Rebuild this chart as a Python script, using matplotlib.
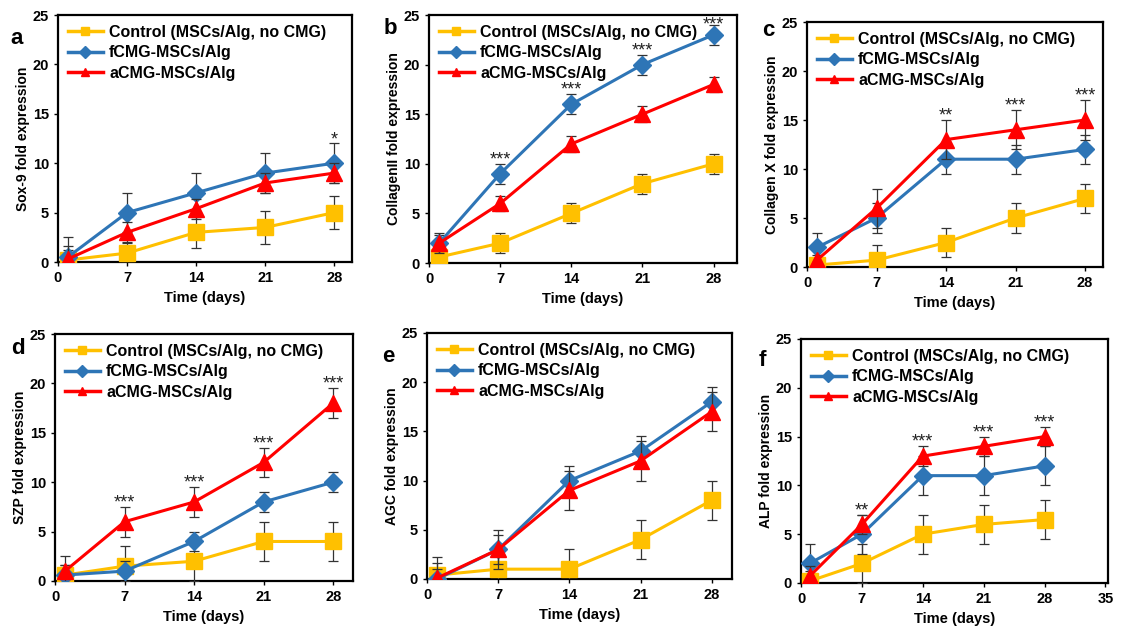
import matplotlib
matplotlib.use("Agg")
import matplotlib.pyplot as plt
from matplotlib.lines import Line2D

plt.rcParams["font.family"] = ["Liberation Sans", "DejaVu Sans"]
plt.rcParams["font.weight"] = "bold"

days = [1, 7, 14, 21, 28]
series_names = ["Control (MSCs/Alg, no CMG)", "fCMG-MSCs/Alg", "aCMG-MSCs/Alg"]

# panel a: Sox-9
sox9_ctrl = [0.2, 0.9, 3.0, 3.5, 5.0]
sox9_ctrl_err = [1.0, 1.0, 1.6, 1.7, 1.7]
sox9_f = [0.5, 5.0, 7.0, 9.0, 10.0]
sox9_f_err = [2.0, 2.0, 2.0, 2.0, 2.0]
sox9_a = [0.3, 3.0, 5.4, 8.0, 9.0]
sox9_a_err = [1.3, 1.0, 1.0, 1.0, 1.0]
sox9_stars = ["", "", "", "", "*"]

# panel b: Collagen II
col2_ctrl = [0.6, 2.0, 5.0, 8.0, 10.0]
col2_ctrl_err = [0.5, 1.0, 1.0, 1.0, 1.0]
col2_f = [2.0, 9.0, 16.0, 20.0, 23.0]
col2_f_err = [0.8, 1.0, 1.0, 1.0, 1.0]
col2_a = [2.0, 6.0, 12.0, 15.0, 18.0]
col2_a_err = [1.0, 0.8, 0.8, 0.8, 0.8]
col2_stars = ["", "***", "***", "***", "***"]

# panel c: Collagen X
col10_ctrl = [0.2, 0.7, 2.5, 5.0, 7.0]
col10_ctrl_err = [0.5, 1.5, 1.5, 1.5, 1.5]
col10_f = [2.0, 5.0, 11.0, 11.0, 12.0]
col10_f_err = [1.5, 1.5, 1.5, 1.5, 1.5]
col10_a = [0.7, 6.0, 13.0, 14.0, 15.0]
col10_a_err = [0.5, 2.0, 2.0, 2.0, 2.0]
col10_stars = ["", "", "**", "***", "***"]

# panel d: SZP
szp_ctrl = [0.6, 1.5, 2.0, 4.0, 4.0]
szp_ctrl_err = [1.0, 2.0, 2.0, 2.0, 2.0]
szp_f = [0.6, 1.0, 4.0, 8.0, 10.0]
szp_f_err = [1.0, 1.0, 1.0, 1.0, 1.0]
szp_a = [1.0, 6.0, 8.0, 12.0, 18.0]
szp_a_err = [1.5, 1.5, 1.5, 1.5, 1.5]
szp_stars = ["", "***", "***", "***", "***"]

# panel e: AGC
agc_ctrl = [0.4, 1.0, 1.0, 4.0, 8.0]
agc_ctrl_err = [1.8, 2.0, 2.0, 2.0, 2.0]
agc_f = [0.0, 3.0, 10.0, 13.0, 18.0]
agc_f_err = [1.0, 1.5, 1.5, 1.5, 1.5]
agc_a = [0.1, 3.0, 9.0, 12.0, 17.0]
agc_a_err = [1.5, 2.0, 2.0, 2.0, 2.0]
agc_stars = ["", "", "", "", ""]

# panel f: ALP
alp_ctrl = [0.2, 2.0, 5.0, 6.0, 6.5]
alp_ctrl_err = [1.0, 2.0, 2.0, 2.0, 2.0]
alp_f = [2.0, 5.0, 11.0, 11.0, 12.0]
alp_f_err = [2.0, 2.0, 2.0, 2.0, 2.0]
alp_a = [0.7, 6.0, 13.0, 14.0, 15.0]
alp_a_err = [1.0, 1.0, 1.0, 1.0, 1.0]
alp_stars = ["", "**", "***", "***", "***"]

colors = ["#FFC000", "#2E75B6", "#FF0000"]
markers = ["s", "D", "^"]
msizes = [11, 9.5, 11]

W, H = 1121, 630


def px_rect(x0, y0, x1, y1):
    return [x0 / W, 1 - y1 / H, (x1 - x0) / W, (y1 - y0) / H]


def draw_panel(rect, letter, letter_xy, ylabel, vals, errs, stars, xmax, xticks):
    ax = fig.add_axes(rect)
    for i in [0, 2, 1]:
        ax.errorbar(days, vals[i], yerr=errs[i], color=colors[i], lw=2.2,
                    marker=markers[i], ms=msizes[i], mec=colors[i],
                    ecolor="#333333", elinewidth=0.9, capsize=3.5, capthick=0.9,
                    zorder=3 + i)
    for k, s in enumerate(stars):
        if s:
            top = max(v[k] + e[k] for v, e in zip(vals, errs))
            ax.text(days[k], min(top + 0.4, 24.0), s, ha="center", va="center",
                    fontsize=13, fontweight="normal", color="#222222")
    ax.set_xlim(0, xmax)
    ax.set_ylim(0, 25)
    ax.set_xticks(xticks)
    ax.set_yticks([0, 5, 10, 15, 20, 25])
    ax.tick_params(labelsize=10.5, width=1, length=3, direction="out")
    for lbl in ax.get_xticklabels() + ax.get_yticklabels():
        lbl.set_fontweight("bold")
    for sp in ax.spines.values():
        sp.set_linewidth(1.6)
    ax.set_xlabel("Time (days)", fontsize=10.5, fontweight="bold", labelpad=4)
    ax.set_ylabel(ylabel, fontsize=10, fontweight="bold", labelpad=2)
    handles = [Line2D([], [], color=c, lw=2.5, marker=m, ms=6) for c, m in zip(colors, markers)]
    ax.legend(handles, series_names, loc="upper left", frameon=False,
              prop={"size": 11.5, "weight": "bold"}, handlelength=2.2,
              handletextpad=0.4, labelspacing=0.35, borderaxespad=0.2,
              bbox_to_anchor=(0.0, 1.0))
    fig.text(letter_xy[0] / W, 1 - letter_xy[1] / H, letter, fontsize=16,
             fontweight="bold", ha="center", va="center")
    return ax


fig = plt.figure(figsize=(W / 100, H / 100), dpi=100)

t28 = [0, 7, 14, 21, 28]
draw_panel(px_rect(58, 15, 352, 262), "a", (17, 38), "Sox-9 fold expression",
           [sox9_ctrl, sox9_f, sox9_a], [sox9_ctrl_err, sox9_f_err, sox9_a_err],
           sox9_stars, 29.8, t28)
draw_panel(px_rect(429, 15, 737, 263), "b", (390, 29), "CollagenII fold expression",
           [col2_ctrl, col2_f, col2_a], [col2_ctrl_err, col2_f_err, col2_a_err],
           col2_stars, 30.3, t28)
draw_panel(px_rect(807, 22, 1103, 267), "c", (768, 31), "Collagen X fold expression",
           [col10_ctrl, col10_f, col10_a], [col10_ctrl_err, col10_f_err, col10_a_err],
           col10_stars, 29.8, t28)
draw_panel(px_rect(55, 334, 353, 581), "d", (18, 349), "SZP fold expression",
           [szp_ctrl, szp_f, szp_a], [szp_ctrl_err, szp_f_err, szp_a_err],
           szp_stars, 30.0, t28)
draw_panel(px_rect(427, 333, 732, 579), "e", (388, 356), "AGC fold expression",
           [agc_ctrl, agc_f, agc_a], [agc_ctrl_err, agc_f_err, agc_a_err],
           agc_stars, 30.0, t28)
draw_panel(px_rect(801, 339, 1108, 583), "f", (762, 361), "ALP fold expression",
           [alp_ctrl, alp_f, alp_a], [alp_ctrl_err, alp_f_err, alp_a_err],
           alp_stars, 35.3, [0, 7, 14, 21, 28, 35])

fig.savefig("out.png", dpi=100)
